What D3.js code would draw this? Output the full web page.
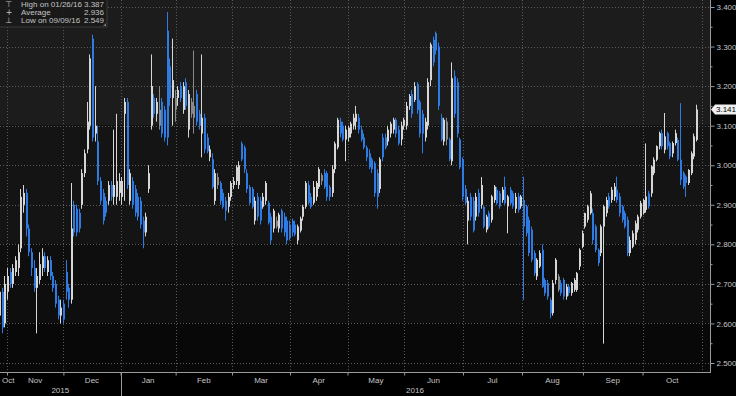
<!DOCTYPE html>
<html>
<head>
<meta charset="utf-8">
<script src="https://cdn.jsdelivr.net/npm/d3@7"></script>
<style>
  html, body { margin: 0; padding: 0; background: #000; }
  svg { display: block; font-family: "Liberation Sans", Arial, sans-serif; }
</style>
</head>
<body>
<script>
// daily candles, one per trading day, late Oct 2015 -> 26 Oct 2016
const openVals = [
  2.62,2.68,2.60,2.68,2.73,2.70,2.73,2.74,2.79,2.90,2.93,2.84,2.78,2.74,2.69,2.71,2.74,2.77,2.73,2.76,
  2.72,2.70,2.66,2.62,2.65,2.73,2.69,2.66,2.90,2.89,2.88,2.90,2.98,3.04,3.10,3.32,3.08,3.06,2.96,2.93,
  2.91,2.91,2.95,2.92,2.92,2.93,2.92,3.13,3.16,2.91,2.96,2.94,2.92,2.91,2.86,2.83,2.94,3.10,3.17,3.13,
  3.10,3.16,3.14,3.34,3.25,3.17,3.14,3.17,3.20,3.14,3.21,3.09,3.13,3.12,3.18,3.13,3.08,3.12,3.07,3.02,
  3.015,2.91,2.95,2.955,2.93,2.91,2.895,2.92,2.95,2.96,2.95,3.055,3.045,2.98,2.945,2.94,2.86,2.92,2.91,2.895,
  2.91,2.905,2.87,2.84,2.845,2.84,2.885,2.87,2.86,2.85,2.86,2.85,2.81,2.835,2.87,2.895,2.95,2.92,2.905,2.92,
  2.945,2.96,2.98,2.98,2.945,2.93,2.99,3.045,3.11,3.10,3.065,3.07,3.08,3.10,3.11,3.12,3.09,3.07,3.045,3.03,
  3.015,3.005,2.98,2.94,3.07,3.07,3.06,3.08,3.09,3.115,3.09,3.065,3.10,3.10,3.15,3.18,3.165,3.205,3.16,3.13,
  3.07,3.10,3.215,3.317,3.334,3.30,3.12,3.06,3.065,3.065,3.01,3.225,3.21,3.065,3.015,2.94,2.86,2.92,2.91,2.87,
  2.93,2.90,2.895,2.837,2.879,2.862,2.912,2.938,2.929,2.912,2.946,2.896,2.938,2.929,2.89,2.921,2.896,2.912,2.896,2.862,
  2.837,2.778,2.719,2.744,2.786,2.71,2.702,2.659,2.626,2.71,2.685,2.702,2.71,2.668,2.693,2.677,2.685,2.685,2.744,2.794,
  2.845,2.862,2.879,2.879,2.845,2.786,2.778,2.845,2.879,2.921,2.912,2.92,2.938,2.921,2.896,2.879,2.862,2.778,2.794,2.811,
  2.837,2.870,2.879,2.887,2.929,2.929,2.98,3.014,3.048,3.081,3.039,3.081,3.056,3.03,3.056,3.064,3.014,2.98,2.971,2.955,
  2.98,3.022,3.064
];
const highVals = [
  2.70,2.69,2.72,2.74,2.74,2.75,2.77,2.80,2.94,2.95,2.94,2.85,2.79,2.76,2.74,2.78,2.79,2.78,2.77,2.77,
  2.73,2.71,2.67,2.66,2.66,2.76,2.70,2.955,2.91,2.90,2.89,2.99,3.04,3.16,3.28,3.33,3.20,3.10,2.97,2.94,
  2.92,2.96,2.96,3.09,3.13,2.98,2.97,3.17,3.17,2.99,2.97,2.95,2.93,2.92,2.87,2.88,3.00,3.28,3.18,3.17,
  3.20,3.17,3.15,3.387,3.27,3.32,3.19,3.20,3.21,3.21,3.22,3.19,3.17,3.29,3.19,3.14,3.28,3.13,3.08,3.05,
  3.03,2.99,2.98,2.96,2.94,2.92,2.93,2.96,2.97,3.00,3.01,3.06,3.05,2.99,2.95,2.945,2.92,2.93,2.92,2.93,
  2.96,2.91,2.88,2.89,2.87,2.88,2.89,2.88,2.87,2.86,2.865,2.86,2.85,2.87,2.90,2.96,2.96,2.93,2.96,2.96,
  2.995,2.98,2.99,2.985,2.95,3.00,3.06,3.12,3.12,3.11,3.10,3.10,3.11,3.13,3.15,3.13,3.10,3.08,3.05,3.04,
  3.02,3.01,2.99,3.02,3.08,3.08,3.10,3.11,3.12,3.12,3.10,3.11,3.12,3.16,3.18,3.19,3.21,3.21,3.165,3.14,
  3.12,3.22,3.31,3.325,3.338,3.31,3.13,3.12,3.12,3.07,3.26,3.24,3.22,3.07,3.02,2.95,2.92,2.93,2.92,2.93,
  2.94,2.97,2.90,2.875,2.885,2.925,2.95,2.945,2.935,2.945,2.971,2.925,2.945,2.935,2.93,2.93,2.925,2.971,2.90,2.87,
  2.845,2.785,2.765,2.785,2.80,2.715,2.71,2.665,2.71,2.765,2.725,2.71,2.715,2.70,2.70,2.705,2.715,2.73,2.79,2.835,
  2.88,2.90,2.935,2.89,2.85,2.79,2.85,2.90,2.92,2.93,2.945,2.955,2.971,2.93,2.90,2.885,2.87,2.82,2.835,2.86,
  2.875,2.91,2.915,3.055,2.935,3.00,3.02,3.05,3.085,3.09,3.132,3.085,3.06,3.06,3.09,3.07,3.157,2.985,2.975,2.99,
  3.035,3.08,3.153
];
const lowVals = [
  2.61,2.575,2.59,2.66,2.69,2.69,2.72,2.72,2.78,2.88,2.82,2.77,2.72,2.68,2.575,2.70,2.72,2.73,2.72,2.71,
  2.68,2.64,2.61,2.60,2.60,2.66,2.64,2.65,2.82,2.82,2.83,2.89,2.97,3.03,3.09,3.06,3.06,2.95,2.90,2.85,
  2.87,2.90,2.91,2.90,2.90,2.91,2.90,2.91,2.94,2.90,2.89,2.87,2.86,2.84,2.79,2.82,2.93,3.09,3.12,3.11,
  3.09,3.07,3.06,3.05,3.15,3.10,3.11,3.15,3.16,3.13,3.14,3.07,3.12,3.08,3.10,3.09,3.02,3.03,3.03,3.01,
  2.94,2.90,2.94,2.90,2.89,2.86,2.88,2.91,2.94,2.95,2.94,3.01,2.98,2.93,2.90,2.89,2.85,2.86,2.85,2.89,
  2.90,2.85,2.80,2.83,2.84,2.83,2.83,2.82,2.80,2.81,2.82,2.82,2.80,2.83,2.86,2.89,2.90,2.89,2.90,2.91,
  2.94,2.95,2.94,2.91,2.91,2.92,2.98,3.04,3.07,3.06,3.01,3.06,3.07,3.09,3.09,3.08,3.06,3.04,3.01,2.99,
  2.98,2.92,2.89,2.93,3.01,3.04,3.05,3.07,3.08,3.07,3.05,3.05,3.09,3.09,3.14,3.12,3.16,3.13,3.07,3.03,
  3.06,3.09,3.20,3.25,3.28,3.14,3.06,3.05,3.05,3.01,3.00,3.12,3.07,2.99,2.91,2.90,2.80,2.86,2.83,2.86,
  2.87,2.89,2.84,2.83,2.84,2.855,2.905,2.90,2.89,2.905,2.90,2.828,2.90,2.89,2.879,2.88,2.89,2.659,2.82,2.77,
  2.755,2.72,2.71,2.74,2.69,2.67,2.66,2.613,2.62,2.70,2.68,2.67,2.66,2.66,2.67,2.67,2.68,2.68,2.735,2.79,
  2.84,2.855,2.875,2.80,2.78,2.745,2.77,2.549,2.87,2.89,2.905,2.91,2.905,2.87,2.855,2.84,2.77,2.77,2.79,2.80,
  2.83,2.865,2.875,2.88,2.89,2.92,2.975,3.01,3.04,3.04,3.03,3.04,3.015,3.02,3.05,3.01,2.95,2.94,2.92,2.95,
  2.975,3.015,3.06
];
const closeVals = [
  2.68,2.59,2.70,2.72,2.70,2.74,2.76,2.78,2.92,2.93,2.84,2.78,2.74,2.69,2.72,2.75,2.77,2.74,2.76,2.72,
  2.69,2.65,2.62,2.64,2.61,2.68,2.66,2.84,2.83,2.83,2.84,2.98,3.03,3.11,3.27,3.07,3.10,2.96,2.91,2.86,
  2.88,2.95,2.92,2.95,2.96,2.96,2.96,3.16,2.95,2.98,2.90,2.88,2.87,2.85,2.83,2.87,2.98,3.20,3.13,3.16,
  3.14,3.08,3.07,3.07,3.17,3.215,3.17,3.19,3.17,3.20,3.15,3.18,3.16,3.15,3.11,3.10,3.12,3.04,3.035,3.04,
  2.945,2.98,2.97,2.91,2.895,2.885,2.92,2.955,2.96,2.995,3.00,3.015,2.99,2.94,2.905,2.895,2.91,2.87,2.86,2.92,
  2.955,2.855,2.81,2.885,2.86,2.875,2.84,2.83,2.81,2.815,2.83,2.825,2.845,2.865,2.895,2.955,2.905,2.895,2.945,2.955,
  2.99,2.975,2.945,2.92,2.92,2.99,3.055,3.115,3.08,3.065,3.09,3.095,3.105,3.12,3.13,3.09,3.065,3.045,3.02,2.995,
  2.99,2.93,2.92,3.015,3.02,3.045,3.09,3.105,3.115,3.08,3.055,3.10,3.115,3.15,3.175,3.13,3.20,3.14,3.08,3.08,
  3.11,3.21,3.305,3.26,3.29,3.15,3.065,3.115,3.11,3.015,3.22,3.13,3.08,2.995,2.92,2.905,2.91,2.87,2.835,2.92,
  2.88,2.95,2.845,2.87,2.845,2.921,2.946,2.904,2.896,2.938,2.904,2.921,2.904,2.896,2.92,2.887,2.921,2.845,2.828,2.778,
  2.761,2.727,2.761,2.778,2.693,2.677,2.668,2.626,2.702,2.761,2.719,2.677,2.668,2.693,2.677,2.702,2.71,2.727,2.786,2.828,
  2.879,2.896,2.929,2.811,2.786,2.753,2.845,2.896,2.912,2.896,2.938,2.946,2.912,2.879,2.862,2.845,2.778,2.811,2.828,2.853,
  2.870,2.904,2.912,2.921,2.896,2.997,3.014,3.048,3.081,3.048,3.073,3.048,3.022,3.056,3.081,3.014,2.963,2.946,2.955,2.988,
  3.03,3.073,3.141
];

const yTicks = [2.5, 2.6, 2.7, 2.8, 2.9, 3.0, 3.1, 3.2, 3.3, 3.4];
const yMinor = [2.55, 2.65, 2.75, 2.85, 2.95, 3.05, 3.15, 3.25, 3.35];
// month boundaries, in candle-index units
const monthBounds = [3, 24.2, 45.7, 66.4, 87.6, 109.4, 131, 152.3, 174.4, 196.6, 219.5, 241.9, 264.3];
const monthNames = ['Oct', 'Nov', 'Dec', 'Jan', 'Feb', 'Mar', 'Apr', 'May', 'Jun', 'Jul', 'Aug', 'Sep', 'Oct'];
const years = [{ label: '2015', from: -1, to: 45.7 }, { label: '2016', from: 45.7, to: 267 }];
const legendRows = [
  { glyph: '\u22A4', text: 'High on 01/26/16', value: '3.387' },
  { glyph: '+', text: 'Average', value: '2.936' },
  { glyph: '\u22A5', text: 'Low on 09/09/16', value: '2.549' }
];

const W = 736, H = 396;
const plotRight = 710, plotBottom = 372;
const textCol = '#c4c4c4';

const x = d3.scaleLinear().domain([0, 262]).range([-1, 696]);
const y = d3.scaleLinear().domain([2.5, 3.4]).range([363, 7]);

const svg = d3.select('body').append('svg')
    .attr('width', W)
    .attr('height', H);

svg.append('rect').attr('width', W).attr('height', H).attr('fill', '#000');

//background bands, lighter at the top
const bandEdges = [0, y(3.1), y(2.8), y(2.6), plotBottom];
const bandFill = ['#1c1c1c', '#141414', '#0e0e0e', '#080808'];
svg.selectAll('rect.band')
    .data(bandFill)
    .enter()
    .append('rect')
    .attr('class', 'band')
    .attr('x', 0)
    .attr('y', (d, i) => bandEdges[i])
    .attr('width', plotRight)
    .attr('height', (d, i) => bandEdges[i + 1] - bandEdges[i])
    .attr('fill', d => d);

//dotted grid
svg.selectAll('line.hgrid')
    .data(yTicks)
    .enter()
    .append('line')
    .attr('x1', 0).attr('x2', plotRight)
    .attr('y1', d => Math.round(y(d)) + 0.5)
    .attr('y2', d => Math.round(y(d)) + 0.5)
    .attr('stroke', '#5a5a5a')
    .attr('stroke-dasharray', '1,2');

svg.selectAll('line.vgrid')
    .data(monthBounds)
    .enter()
    .append('line')
    .attr('x1', d => Math.round(x(d)) + 0.5)
    .attr('x2', d => Math.round(x(d)) + 0.5)
    .attr('y1', 0).attr('y2', plotBottom)
    .attr('stroke', '#5a5a5a')
    .attr('stroke-dasharray', '1,2');

//candles
svg.append('clipPath').attr('id', 'plotclip')
    .append('rect').attr('width', plotRight).attr('height', plotBottom);

const candles = closeVals.map((c, i) => ({
  i, o: openVals[i], h: highVals[i], l: lowVals[i], c,
  prev: i > 0 ? closeVals[i - 1] : openVals[i]
}));

const colorOf = d => d.c < d.o ? '#2e7be4' : (d.c < d.prev ? '#8a8a8a' : '#d6d6d6');

const cg = svg.append('g').attr('clip-path', 'url(#plotclip)');

cg.selectAll('line.wick')
    .data(candles)
    .enter()
    .append('line')
    .attr('x1', d => Math.round(x(d.i)) + 0.5)
    .attr('x2', d => Math.round(x(d.i)) + 0.5)
    .attr('y1', d => y(d.h))
    .attr('y2', d => y(d.l))
    .attr('stroke', colorOf)
    .attr('stroke-width', 1);

cg.selectAll('rect.body')
    .data(candles)
    .enter()
    .append('rect')
    .attr('x', d => Math.round(x(d.i)))
    .attr('width', 2)
    .attr('y', d => y(Math.max(d.o, d.c)))
    .attr('height', d => Math.max(1, Math.abs(y(d.o) - y(d.c))))
    .attr('fill', colorOf);

//right axis
const yAxis = svg.append('g')
    .attr('transform', `translate(${plotRight + 0.5},0)`)
    .call(d3.axisRight(y).tickValues(yTicks).tickFormat(d3.format('.3f')).tickSize(4).tickPadding(2));
yAxis.select('.domain').remove();
yAxis.selectAll('line').attr('stroke', '#9a9a9a');
yAxis.selectAll('text').attr('fill', textCol).attr('font-size', 8)
    .attr('font-family', '"Liberation Sans", Arial, sans-serif');

const yMinorAxis = svg.append('g')
    .attr('transform', `translate(${plotRight + 0.5},0)`)
    .call(d3.axisRight(y).tickValues(yMinor).tickFormat('').tickSize(2));
yMinorAxis.select('.domain').remove();
yMinorAxis.selectAll('line').attr('stroke', '#9a9a9a');

svg.append('line')
    .attr('x1', plotRight + 0.5).attr('x2', plotRight + 0.5)
    .attr('y1', 0).attr('y2', plotBottom + 1)
    .attr('stroke', '#9a9a9a');

//bottom axis
const xAxis = svg.append('g')
    .attr('transform', `translate(0,${plotBottom + 0.5})`)
    .call(d3.axisBottom(x).tickValues(monthBounds.slice(0, -1)).tickFormat('').tickSize(3));
xAxis.select('.domain').remove();
xAxis.selectAll('line').attr('stroke', '#9a9a9a');

svg.append('line')
    .attr('x1', 0).attr('x2', plotRight + 1)
    .attr('y1', plotBottom + 0.5).attr('y2', plotBottom + 0.5)
    .attr('stroke', '#9a9a9a');

const monthMid = monthNames.map((m, k) => ({
  m, k,
  pos: k === 0 ? null : (monthBounds[k - 1] + monthBounds[k]) / 2
}));

svg.selectAll('text.month')
    .data(monthMid)
    .enter()
    .append('text')
    .attr('x', d => d.k === 0 ? x(0) + 3 : x(d.pos))
    .attr('y', 383)
    .attr('text-anchor', d => d.k === 0 ? 'start' : 'middle')
    .attr('font-size', 8)
    .attr('fill', textCol)
    .text(d => d.m);

//year separator and labels
svg.append('line')
    .attr('x1', Math.round(x(monthBounds[2])) + 0.5)
    .attr('x2', Math.round(x(monthBounds[2])) + 0.5)
    .attr('y1', plotBottom).attr('y2', H)
    .attr('stroke', '#9a9a9a');

svg.selectAll('text.year')
    .data(years)
    .enter()
    .append('text')
    .attr('x', d => (Math.max(0, x(d.from)) + Math.min(plotRight, x(d.to))) / 2)
    .attr('y', 393)
    .attr('text-anchor', 'middle')
    .attr('font-size', 8)
    .attr('fill', textCol)
    .text(d => d.label);

//last price tag
const last = closeVals[closeVals.length - 1];
const ly = y(last);
svg.append('path')
    .attr('d', `M${plotRight + 1},${ly} L${plotRight + 5},${ly - 5} L${W},${ly - 5} L${W},${ly + 5} L${plotRight + 5},${ly + 5} Z`)
    .attr('fill', '#efefef');
svg.append('text')
    .attr('x', plotRight + 6)
    .attr('y', ly + 3)
    .attr('font-size', 8)
    .attr('fill', '#000')
    .text(d3.format('.3f')(last));

//legend box
const lg = svg.append('g');
lg.append('rect')
    .attr('x', -1).attr('y', -1)
    .attr('width', 108).attr('height', 28)
    .attr('fill', '#191919')
    .attr('fill-opacity', 0.92)
    .attr('stroke', '#3a3a3a');
lg.append('path')
    .attr('d', 'M106,23 L106,26 L103,26 Z')
    .attr('fill', '#777');

const rows = lg.selectAll('g.row')
    .data(legendRows)
    .enter()
    .append('g')
    .attr('transform', (d, i) => `translate(0,${6.5 + i * 8.4})`);

rows.append('text')
    .attr('x', 9).attr('text-anchor', 'middle')
    .attr('font-size', 8)
    .attr('font-family', '"DejaVu Sans", sans-serif')
    .attr('fill', textCol)
    .text(d => d.glyph);
rows.append('text')
    .attr('x', 21)
    .attr('font-size', 8)
    .attr('fill', textCol)
    .text(d => d.text);
rows.append('text')
    .attr('x', 104).attr('text-anchor', 'end')
    .attr('font-size', 8)
    .attr('fill', textCol)
    .text(d => d.value);
</script>
</body>
</html>
